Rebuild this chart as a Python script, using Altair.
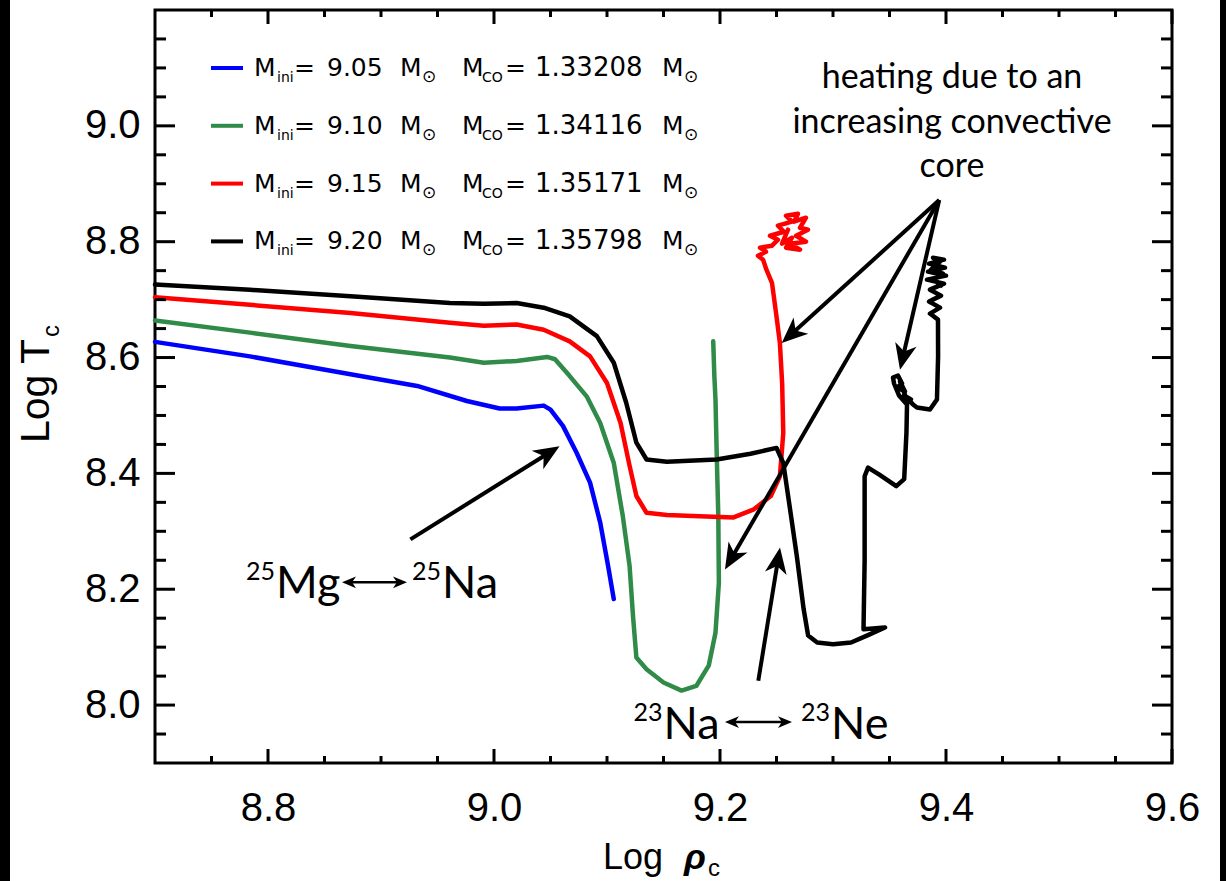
import math
import altair as alt
import pandas as pd

# ---------------- data ----------------
series_names = ["9.05", "9.10", "9.15", "9.20"]
series_colors = ["#0000ff", "#2f8b47", "#ff0000", "#000000"]
mini_labels = ["9.05", "9.10", "9.15", "9.20"]
mco_labels = ["1.33208", "1.34116", "1.35171", "1.35798"]

blue_x = [8.700, 8.784, 8.873, 8.932, 8.976, 9.005, 9.020, 9.044, 9.050, 9.061,
          9.073, 9.085, 9.094, 9.101, 9.106]
blue_y = [8.627, 8.602, 8.571, 8.551, 8.525, 8.512, 8.512, 8.517, 8.510, 8.482,
          8.436, 8.384, 8.315, 8.240, 8.183]

green_x = [8.700, 8.784, 8.873, 8.961, 8.991, 9.020, 9.047, 9.054, 9.067, 9.082,
           9.094, 9.106, 9.114, 9.120, 9.123, 9.126, 9.135, 9.150, 9.166, 9.179,
           9.190, 9.196, 9.199, 9.1985, 9.197, 9.196, 9.195, 9.194]
green_y = [8.664, 8.643, 8.620, 8.600, 8.591, 8.594, 8.601, 8.597, 8.568, 8.533,
           8.487, 8.418, 8.326, 8.240, 8.154, 8.082, 8.062, 8.039, 8.025, 8.033,
           8.068, 8.125, 8.211, 8.326, 8.441, 8.528, 8.568, 8.628]

red_x = [8.700, 8.784, 8.873, 8.961, 8.991, 9.020, 9.044, 9.067, 9.085, 9.100,
         9.112, 9.120, 9.126, 9.135, 9.153, 9.182, 9.212, 9.230, 9.245, 9.253,
         9.256, 9.255, 9.253, 9.250, 9.246, 9.241, 9.2381, 9.2336, 9.2407, 9.2354,
         9.2460, 9.2513, 9.2442, 9.2566, 9.2513, 9.2637, 9.2584, 9.2690, 9.2655, 9.2761,
         9.2708, 9.2779, 9.2673, 9.2761, 9.2619, 9.2708, 9.2584, 9.2637, 9.2549, 9.2602]
red_y = [8.704, 8.691, 8.677, 8.660, 8.655, 8.657, 8.648, 8.628, 8.602, 8.556,
         8.487, 8.413, 8.361, 8.332, 8.328, 8.326, 8.324, 8.338, 8.361, 8.395,
         8.470, 8.556, 8.625, 8.671, 8.729, 8.752, 8.7690, 8.7759, 8.7828, 8.7897,
         8.7931, 8.8034, 8.8103, 8.8172, 8.8276, 8.8345, 8.8448, 8.8483, 8.8345, 8.8414,
         8.8241, 8.8207, 8.8103, 8.8000, 8.7966, 8.7862, 8.7897, 8.8069, 8.7966, 8.8207]

black_x = [8.700, 8.784, 8.873, 8.961, 8.991, 9.020, 9.044, 9.067, 9.091, 9.106,
           9.117, 9.126, 9.135, 9.153, 9.197, 9.227, 9.250, 9.256, 9.262, 9.268,
           9.274, 9.278, 9.286, 9.300, 9.316, 9.330, 9.346, 9.327, 9.328, 9.328,
           9.331, 9.341, 9.356, 9.363, 9.365, 9.3655, 9.3584, 9.3540, 9.3531, 9.3575,
           9.3611, 9.3566, 9.3637, 9.3593, 9.3646, 9.3690, 9.3628, 9.3708, 9.3743, 9.3858,
           9.3920, 9.393, 9.3929, 9.3858, 9.3947, 9.3850, 9.3956, 9.3858, 9.3982, 9.3832,
           9.4000, 9.3841, 9.3991, 9.3850, 9.3982, 9.3885, 9.3947, 9.3867, 9.3973, 9.3894,
           9.3956]
black_y = [8.726, 8.717, 8.706, 8.694, 8.693, 8.694, 8.686, 8.671, 8.637, 8.591,
           8.522, 8.453, 8.424, 8.420, 8.424, 8.434, 8.444, 8.418, 8.338, 8.257,
           8.166, 8.120, 8.108, 8.105, 8.108, 8.120, 8.134, 8.131, 8.250, 8.395,
           8.410, 8.398, 8.378, 8.390, 8.470, 8.5190, 8.5345, 8.5552, 8.5655, 8.5690,
           8.5552, 8.5483, 8.5414, 8.5586, 8.5310, 8.5276, 8.5345, 8.5190, 8.5138, 8.5103,
           8.5276, 8.602, 8.6655, 8.6759, 8.6862, 8.6966, 8.7069, 8.7172, 8.7276, 8.7345,
           8.7414, 8.7483, 8.7552, 8.7621, 8.7690, 8.7724, 8.7655, 8.7517, 8.7448, 8.7345,
           8.7241]

# arrows: tail x, tail y, tip x, tip y (data coordinates)
arrow_x0 = [8.926, 9.394, 9.394, 9.394, 9.2339]
arrow_y0 = [8.286, 8.872, 8.872, 8.872, 8.042]
arrow_x1 = [9.058, 9.2546, 9.2044, 9.3593, 9.2531]
arrow_y1 = [8.447, 8.625, 8.234, 8.579, 8.272]

# double arrows (isotope pairs)
dbl_x0 = [8.8655, 9.2044]
dbl_x1 = [8.923, 9.2637]
dbl_y = [8.212, 7.9707]

# isotope labels: anchor x, baseline y, superscript, symbol
iso_x = [8.807, 8.954, 9.150, 9.2982]
iso_y = [8.1845, 8.1845, 7.9414, 7.9414]
iso_sup = ["25", "25", "23", "23"]
iso_sym = ["Mg", "Na", "Na", "Ne"]

heating_lines = ["heating due to an", "increasing convective", "core"]

x_major = [8.8, 9.0, 9.2, 9.4, 9.6]
x_minor = [8.75, 8.85, 8.9, 8.95, 9.05, 9.1, 9.15, 9.25, 9.3, 9.35, 9.45, 9.5, 9.55]
y_major = [8.0, 8.2, 8.4, 8.6, 8.8, 9.0]
y_minor = [7.95, 8.05, 8.1, 8.15, 8.25, 8.3, 8.35, 8.45, 8.5, 8.55, 8.65, 8.7,
           8.75, 8.85, 8.9, 8.95, 9.05, 9.1, 9.15]

# ---------------- layout ----------------
W, H = 1017, 753
OX, OY = 155, 10
XMIN, XMAX = 8.7, 9.6
YMIN, YMAX = 7.9, 9.2
PX_X = W / (XMAX - XMIN)
PX_Y = H / (YMAX - YMIN)

xs = alt.Scale(domain=[XMIN, XMAX], nice=False, zero=False)
ys = alt.Scale(domain=[YMIN, YMAX], nice=False, zero=False)

TICKFONT = "Liberation Sans"
ANNFONT = "Lato"
LEGFONT = "DejaVu Sans"

xaxis = alt.Axis(values=x_major, format=".1f", ticks=False, domain=False, grid=False,
                 labelFont=TICKFONT, labelFontSize=40, labelColor="black",
                 labelPadding=25, title=None, labelFlush=False)
yaxis = alt.Axis(values=y_major, format=".1f", ticks=False, domain=False, grid=False,
                 labelFont=TICKFONT, labelFontSize=40, labelColor="black",
                 labelPadding=15, title=None, labelFlush=False)


def X(f):
    return alt.X(f, scale=xs, axis=xaxis)


def Y(f):
    return alt.Y(f, scale=ys, axis=yaxis)


# ---------------- curves ----------------
rows = []
for name, xv, yv in zip(series_names, [blue_x, green_x, red_x, black_x],
                        [blue_y, green_y, red_y, black_y]):
    for i, (a, b) in enumerate(zip(xv, yv)):
        rows.append({"s": name, "x": a, "y": b, "i": i})
curves_df = pd.DataFrame(rows)

curves = alt.Chart(curves_df).mark_line(
    strokeWidth=4.5, strokeJoin="round", strokeCap="round"
).encode(
    x=X("x:Q"), y=Y("y:Q"),
    color=alt.Color("s:N", scale=alt.Scale(domain=series_names, range=series_colors),
                    legend=None),
    order=alt.Order("i:Q"),
)

layers = [curves]

# ---------------- inward ticks ----------------
def vdf(vals):
    return pd.DataFrame({"v": vals})

TW = 3
for vals, ln in [(x_major, 14), (x_minor, 7)]:
    layers.append(alt.Chart(vdf(vals)).mark_rule(color="black", strokeWidth=TW).encode(
        x=X("v:Q"), y=alt.value(H), y2=alt.value(H - ln)))
    layers.append(alt.Chart(vdf(vals)).mark_rule(color="black", strokeWidth=TW).encode(
        x=X("v:Q"), y=alt.value(0), y2=alt.value(ln)))
for vals, ln in [(y_major, 20), (y_minor, 11)]:
    layers.append(alt.Chart(vdf(vals)).mark_rule(color="black", strokeWidth=TW).encode(
        y=Y("v:Q"), x=alt.value(0), x2=alt.value(ln)))
    layers.append(alt.Chart(vdf(vals)).mark_rule(color="black", strokeWidth=TW).encode(
        y=Y("v:Q"), x=alt.value(W), x2=alt.value(W - ln)))

# ---------------- arrows ----------------
HEAD = "M0,0 L-0.42,1 L0,0.72 L0.42,1 Z"


def arrow_geom(x0, y0, x1, y1, length):
    dxs = (x1 - x0) * PX_X
    dys = -(y1 - y0) * PX_Y
    n = math.hypot(dxs, dys)
    ux, uy = dxs / n, dys / n
    ang = math.degrees(math.atan2(dxs, -dys)) % 360
    back = 0.6 * length
    ex = x1 - ux * back / PX_X
    ey = y1 + uy * back / PX_Y
    return ang, ex, ey


line_rows, head_rows = [], []
L_MAIN = 26
for k, (a0, b0, a1, b1) in enumerate(zip(arrow_x0, arrow_y0, arrow_x1, arrow_y1)):
    ang, ex, ey = arrow_geom(a0, b0, a1, b1, L_MAIN)
    line_rows += [{"k": k, "x": a0, "y": b0, "o": 0}, {"k": k, "x": ex, "y": ey, "o": 1}]
    head_rows.append({"x": a1, "y": b1, "a": ang})

layers.append(alt.Chart(pd.DataFrame(line_rows)).mark_line(
    color="black", strokeWidth=4, strokeCap="butt").encode(
    x=X("x:Q"), y=Y("y:Q"), detail="k:N", order="o:Q"))
layers.append(alt.Chart(pd.DataFrame(head_rows)).mark_point(
    shape=HEAD, filled=True, color="black", opacity=1, strokeWidth=0,
    size=(2 * L_MAIN) ** 2).encode(
    x=X("x:Q"), y=Y("y:Q"), angle=alt.Angle("a:Q", scale=None)))

# double arrows
L_DBL = 14
dl_rows, dh_rows = [], []
for k, (a0, a1, b) in enumerate(zip(dbl_x0, dbl_x1, dbl_y)):
    ang1, ex1, _ = arrow_geom(a0, b, a1, b, L_DBL)
    ang0, ex0, _ = arrow_geom(a1, b, a0, b, L_DBL)
    dl_rows += [{"k": k, "x": ex0, "y": b, "o": 0}, {"k": k, "x": ex1, "y": b, "o": 1}]
    dh_rows += [{"x": a1, "y": b, "a": ang1}, {"x": a0, "y": b, "a": ang0}]
layers.append(alt.Chart(pd.DataFrame(dl_rows)).mark_line(
    color="black", strokeWidth=2.5).encode(
    x=X("x:Q"), y=Y("y:Q"), detail="k:N", order="o:Q"))
layers.append(alt.Chart(pd.DataFrame(dh_rows)).mark_point(
    shape=HEAD, filled=True, color="black", opacity=1, strokeWidth=0,
    size=(2 * L_DBL) ** 2).encode(
    x=X("x:Q"), y=Y("y:Q"), angle=alt.Angle("a:Q", scale=None)))

# ---------------- isotope labels ----------------
iso_df = pd.DataFrame({"x": iso_x, "y": iso_y, "sup": iso_sup, "sym": iso_sym})
layers.append(alt.Chart(iso_df).mark_text(
    align="left", baseline="alphabetic", font=ANNFONT, fontSize=45, color="black"
).encode(x=X("x:Q"), y=Y("y:Q"), text="sym:N"))
layers.append(alt.Chart(iso_df).mark_text(
    align="right", baseline="alphabetic", font=ANNFONT, fontSize=25, color="black",
    dy=-18, dx=-1
).encode(x=X("x:Q"), y=Y("y:Q"), text="sup:N"))

# ---------------- heating text ----------------
heat_df = pd.DataFrame({"t": heating_lines, "k": list(range(len(heating_lines)))})
heat_df["yp"] = 78 + 44.5 * heat_df["k"]
layers.append(alt.Chart(heat_df).mark_text(
    align="center", baseline="alphabetic", font=ANNFONT, fontSize=34, color="black"
).encode(x=alt.value(952 - OX), y=alt.Y("yp:Q", scale=None), text="t:N"))

# ---------------- legend ----------------
leg_df = pd.DataFrame({"k": list(range(4)), "mini": mini_labels, "mco": mco_labels,
                       "c": series_colors})
leg_df["yb"] = 76 - OY + 57.8 * leg_df["k"]
leg_df["ysub"] = leg_df["yb"] + 6
leg_df["yl"] = leg_df["yb"] - 8
layers.append(alt.Chart(leg_df).mark_rule(strokeWidth=4).encode(
    x=alt.value(211 - OX), x2=alt.value(243 - OX), y=alt.Y("yl:Q", scale=None),
    color=alt.Color("c:N", scale=None)))

segs = [
    ("M", 254, 25, "yb"), ("ini", 277, 14, "ysub"), ("=", 294, 25, "yb"),
    ("@mini", 327, 25, "yb"), ("M", 400, 25, "yb"), ("\u2299", 422, 17, "ysub"),
    ("M", 462, 25, "yb"), ("CO", 482, 14, "ysub"), ("=", 505, 25, "yb"),
    ("@mco", 535, 26, "yb"), ("M", 662, 25, "yb"), ("\u2299", 684, 17, "ysub"),
]
for txt, xp, fs, yf in segs:
    if txt.startswith("@"):
        tenc = alt.Text(txt[1:] + ":N")
    else:
        tenc = alt.value(txt)
    layers.append(alt.Chart(leg_df).mark_text(
        align="left", baseline="alphabetic", font=LEGFONT, fontSize=fs, color="black"
    ).encode(x=alt.value(xp - OX), y=alt.Y(yf + ":Q", scale=None), text=tenc))

# ---------------- axis titles ----------------
one = alt.Data(values=[{}])
layers.append(alt.Chart(one).mark_text(
    text="Log T", angle=270, align="left", baseline="alphabetic",
    font=TICKFONT, fontSize=41, color="black").encode(
    x=alt.value(49 - OX), y=alt.value(443 - OY)))
layers.append(alt.Chart(one).mark_text(
    text="c", angle=270, align="left", baseline="alphabetic",
    font=TICKFONT, fontSize=24, color="black").encode(
    x=alt.value(59 - OX), y=alt.value(337 - OY)))
layers.append(alt.Chart(one).mark_text(
    text="Log", align="left", baseline="alphabetic",
    font=TICKFONT, fontSize=36, color="black").encode(
    x=alt.value(603 - OX), y=alt.value(869 - OY)))
layers.append(alt.Chart(one).mark_text(
    text="\u03c1", align="left", baseline="alphabetic", fontStyle="italic",
    fontWeight="bold", font=TICKFONT, fontSize=36, color="black").encode(
    x=alt.value(684 - OX), y=alt.value(869 - OY)))
layers.append(alt.Chart(one).mark_text(
    text="c", align="left", baseline="alphabetic",
    font=TICKFONT, fontSize=24, color="black").encode(
    x=alt.value(708 - OX), y=alt.value(876 - OY)))

# ---------------- black page edges ----------------
layers.append(alt.Chart(one).mark_rect(color="black").encode(
    x=alt.value(-OX), x2=alt.value(10 - OX), y=alt.value(-OY), y2=alt.value(881 - OY)))
layers.append(alt.Chart(one).mark_rect(color="black").encode(
    x=alt.value(1220 - OX), x2=alt.value(1226 - OX), y=alt.value(-OY),
    y2=alt.value(881 - OY)))

chart = alt.layer(*layers).properties(
    width=W, height=H,
    autosize=alt.AutoSizeParams(type="none"),
    padding={"left": OX, "top": OY, "right": 1226 - OX - W, "bottom": 881 - OY - H},
    background="white",
).configure_view(stroke="black", strokeWidth=3)

chart.save("out.html", embed_options={"renderer": "svg", "actions": False})
